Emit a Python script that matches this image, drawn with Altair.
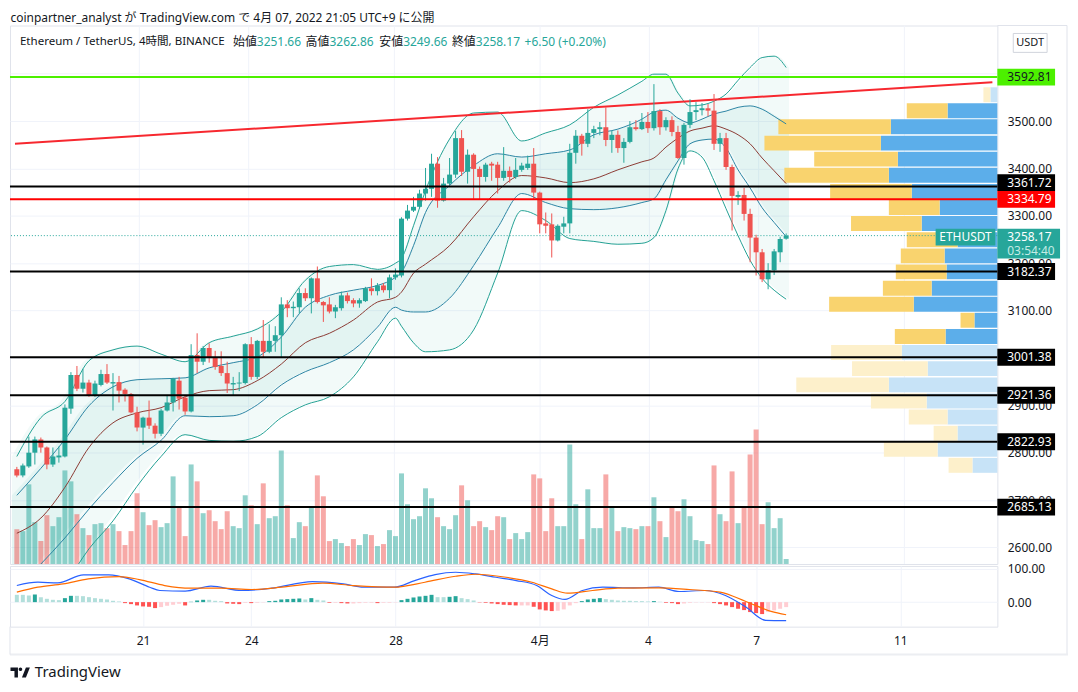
import altair as alt
import pandas as pd

FONT = "Noto Sans, Noto Sans CJK JP"
INK = "#131722"
UP = "#26a69a"
DOWN = "#ef5350"
GRID = "#f0f3fa"
BORDER = "#e0e3eb"

title_text = "coinpartner_analyst が TradingView.com で 4月 07, 2022 21:05 UTC+9 に公開"

# ---------------- 4h candles (index 0 = 3/17 13:00 JST) ----------------
opens = [2765, 2752, 2771, 2800, 2828, 2811, 2775, 2790, 2792, 2893,
         2964, 2935, 2948, 2920, 2943, 2966, 2946, 2949, 2933, 2924,
         2885, 2853, 2874, 2857, 2840, 2889, 2906, 2952, 2916, 2887,
         3006, 2992, 3021, 3002, 2983, 2968, 2944, 2946, 2947, 3029,
         2960, 3036, 3013, 3036, 3048, 3113, 3105, 3107, 3137, 3126,
         3168, 3118, 3113, 3098, 3105, 3132, 3122, 3115, 3120, 3147,
         3141, 3153, 3143, 3170, 3174, 3294, 3311, 3319, 3347, 3357,
         3410, 3332, 3368, 3387, 3464, 3393, 3429, 3399, 3382, 3410,
         3408, 3380, 3395, 3382, 3397, 3401, 3410, 3349, 3284, 3282,
         3248, 3277, 3284, 3433, 3469, 3452, 3475, 3483, 3487, 3460,
         3471, 3443, 3456, 3487, 3483, 3498, 3485, 3521, 3487, 3502,
         3477, 3422, 3492, 3519, 3523, 3527, 3522, 3452, 3464, 3403,
         3340, 3344, 3304, 3254, 3223, 3166, 3185, 3223, 3251.66]
highs = [2770, 2777, 2834, 2834, 2832, 2813, 2811, 2813, 2902, 2970,
         2983, 2977, 2954, 2952, 2975, 2987, 2968, 2962, 2936, 2926,
         2897, 2876, 2910, 2862, 2893, 2922, 2958, 2960, 2920, 3029,
         3052, 3025, 3031, 3015, 3014, 2992, 2960, 2970, 3031, 3044,
         3038, 3080, 3071, 3067, 3128, 3122, 3119, 3147, 3147, 3170,
         3193, 3120, 3128, 3112, 3140, 3138, 3126, 3126, 3150, 3168,
         3158, 3158, 3176, 3189, 3297, 3323, 3340, 3355, 3401, 3431,
         3424, 3380, 3422, 3479, 3481, 3440, 3432, 3404, 3412, 3414,
         3414, 3445, 3404, 3422, 3412, 3427, 3443, 3351, 3307, 3305,
         3282, 3298, 3452, 3481, 3473, 3525, 3490, 3498, 3529, 3480,
         3480, 3464, 3500, 3502, 3517, 3519, 3578, 3525, 3508, 3510,
         3490, 3496, 3546, 3540, 3538, 3536, 3557, 3475, 3475, 3408,
         3352, 3359, 3315, 3260, 3230, 3200, 3230, 3256, 3262.86]
lows = [2748, 2748, 2768, 2775, 2800, 2765, 2770, 2779, 2790, 2882,
        2930, 2927, 2918, 2918, 2940, 2945, 2889, 2906, 2908, 2883,
        2845, 2817, 2850, 2830, 2835, 2887, 2887, 2891, 2880, 2885,
        2968, 2985, 2990, 2975, 2962, 2926, 2922, 2930, 2944, 2954,
        2955, 3000, 3010, 3013, 3002, 3086, 3086, 3094, 3120, 3094,
        3115, 3076, 3094, 3084, 3100, 3115, 3107, 3106, 3118, 3132,
        3132, 3138, 3126, 3165, 3170, 3290, 3308, 3315, 3332, 3340,
        3317, 3330, 3365, 3380, 3384, 3368, 3336, 3334, 3372, 3374,
        3347, 3374, 3370, 3378, 3393, 3397, 3336, 3263, 3263, 3212,
        3246, 3263, 3263, 3410, 3427, 3445, 3464, 3470, 3447, 3433,
        3433, 3412, 3453, 3480, 3481, 3475, 3480, 3471, 3480, 3468,
        3420, 3408, 3485, 3502, 3512, 3510, 3439, 3435, 3397, 3269,
        3323, 3290, 3202, 3174, 3160, 3145, 3175, 3202, 3249.66]
closes = [2752, 2773, 2800, 2828, 2811, 2775, 2792, 2794, 2895, 2964,
          2935, 2948, 2920, 2946, 2966, 2948, 2949, 2931, 2924, 2885,
          2853, 2874, 2857, 2840, 2889, 2906, 2956, 2914, 2887, 3006,
          2992, 3021, 3002, 2981, 2968, 2946, 2947, 2948, 3029, 2960,
          3036, 3013, 3036, 3048, 3113, 3105, 3108, 3137, 3126, 3168,
          3118, 3111, 3098, 3107, 3132, 3120, 3115, 3122, 3147, 3141,
          3153, 3143, 3170, 3176, 3294, 3311, 3319, 3347, 3357, 3410,
          3332, 3368, 3387, 3464, 3393, 3429, 3399, 3382, 3408, 3406,
          3380, 3395, 3382, 3397, 3406, 3410, 3349, 3282, 3279, 3248,
          3279, 3284, 3433, 3469, 3452, 3475, 3483, 3487, 3460, 3471,
          3443, 3456, 3487, 3483, 3498, 3485, 3521, 3487, 3502, 3477,
          3422, 3492, 3519, 3523, 3527, 3522, 3452, 3464, 3403, 3342,
          3344, 3304, 3254, 3223, 3166, 3185, 3225, 3251, 3258.17]
volume_k = [35, 33, 80, 42, 23, 49, 38, 47, 94, 83,
            50, 36, 29, 40, 41, 36, 40, 33, 19, 33,
            71, 52, 39, 44, 37, 41, 88, 57, 28, 100,
            83, 51, 54, 43, 35, 53, 38, 36, 69, 59,
            40, 81, 46, 48, 114, 59, 26, 42, 38, 57,
            89, 68, 23, 25, 21, 18, 25, 19, 30, 29,
            18, 20, 34, 28, 91, 60, 45, 48, 76, 66,
            47, 38, 35, 49, 79, 64, 38, 43, 37, 34,
            48, 47, 25, 31, 25, 32, 90, 86, 33, 66,
            38, 38, 120, 60, 25, 75, 36, 36, 90, 57,
            33, 37, 36, 35, 38, 38, 67, 43, 27, 58,
            53, 65, 48, 24, 23, 20, 99, 50, 43, 93,
            41, 58, 110, 135, 40, 62, 36, 46, 5]
macd_hist = [22, 22, 20, 23, 15, 10, 7, 6, 12, 19,
             19, 18, 15, 12, 10, 8, 4, 2, -3, -6,
             -10, -13, -14, -18, -15, -11, -8, -5, -10, 1,
             5, 7, 7, 4, 3, -4, -5, -6, -2, -3,
             -2, -1, 3, 4, 8, 9, 10, 11, 8, 12,
             7, 5, -2, -2, -3, -4, -4, -3, -2, -2,
             -3, -2, -2, -1, 6, 10, 14, 17, 19, 22,
             15, 15, 16, 18, 12, 9, 5, -1, -2, -4,
             -6, -8, -9, -10, -10, -10, -14, -22, -25, -27,
             -26, -22, -10, -3, 3, 8, 10, 12, 9, 7,
             5, 4, 4, 3, 3, 2, 3, 1, -2, -3,
             -6, -4, -2, -1, -1, -1, -3, -6, -10, -15,
             -20, -24, -30, -33, -36, -30, -25, -20, -15]

# ---------------- Bollinger bands (2σ / 1σ) and basis MA ----------------
bb_idx = [0, 4, 8, 12, 16, 20, 24, 28, 32, 36, 40, 44, 48, 52, 56, 60, 63, 64, 66, 68,
          72, 76, 80, 84, 88, 92, 96, 100, 104, 106, 108, 110, 112, 114, 116, 118, 120,
          122, 124, 126, 128]
bb_upper2 = [2792, 2874, 2908, 2994, 3017, 3025, 3008, 2992, 3032, 3046, 3061, 3097, 3164,
             3193, 3197, 3187, 3200, 3210, 3279, 3353, 3462, 3517, 3519, 3458, 3475, 3492,
             3529, 3555, 3584, 3599, 3599, 3559, 3532, 3534, 3542, 3557, 3586, 3613, 3634,
             3637, 3613]
bb_upper1 = [2710, 2767, 2828, 2899, 2939, 2954, 2956, 2958, 2979, 2990, 3002, 3044, 3107,
             3132, 3143, 3153, 3170, 3181, 3237, 3307, 3364, 3406, 3431, 3424, 3431, 3439,
             3471, 3483, 3504, 3519, 3523, 3506, 3496, 3504, 3515, 3521, 3529, 3532, 3525,
             3510, 3494]
bb_basis = [2630, 2662, 2727, 2811, 2863, 2884, 2895, 2918, 2931, 2933, 2952, 2987, 3032,
            3052, 3080, 3118, 3128, 3139, 3179, 3198, 3237, 3298, 3353, 3385, 3380, 3370,
            3378, 3397, 3414, 3422, 3445, 3464, 3479, 3485, 3490, 3483, 3471, 3452, 3422,
            3395, 3368]
bb_lower1 = [2513, 2565, 2620, 2681, 2737, 2788, 2826, 2878, 2876, 2878, 2901, 2943, 2971,
             2990, 3017, 3065, 3107, 3101, 3097, 3097, 3126, 3195, 3275, 3347, 3328, 3315,
             3313, 3317, 3328, 3336, 3376, 3416, 3452, 3460, 3462, 3443, 3397, 3359, 3317,
             3286, 3256]
bb_lower2 = [2408, 2471, 2523, 2597, 2656, 2729, 2792, 2838, 2826, 2824, 2834, 2874, 2901,
             2918, 2960, 3034, 3084, 3067, 3032, 3013, 3017, 3059, 3179, 3311, 3290, 3252,
             3246, 3240, 3242, 3254, 3311, 3399, 3437, 3424, 3374, 3315, 3258, 3206, 3168,
             3143, 3124]

# ---------------- MACD ----------------
macd_idx = [0, 3.5, 6.8, 11.1, 15.3, 18.7, 22.1, 23.8, 28, 32.3, 37.4, 42.4, 49.2, 54.3,
            57.7, 62.8, 66.2, 69.6, 73, 76.3, 79.7, 83.1, 86.5, 89, 91.2, 94.1, 97.5,
            102.6, 106.8, 110.2, 114.5, 117.9, 121.3, 124.6, 128]
macd_val = [50, 60, 58, 82, 82, 70, 45, 35, 33, 48, 35, 42, 62, 55, 45, 45, 65, 83, 90, 85,
            75, 65, 50, 20, 8, 35, 45, 43, 45, 32, 35, 20, -15, -55, -56]
sig_idx = [0, 3.5, 7.7, 11.9, 17, 20.4, 24.6, 28.9, 34, 39.1, 44.1, 50.9, 56, 62.8, 67.9,
           73, 76.3, 81.4, 85.7, 89, 91.6, 95.8, 100, 106.8, 111.9, 117, 121.3, 125.5, 128]
sig_val = [30, 45, 55, 70, 77, 68, 50, 42, 42, 38, 45, 57, 50, 45, 60, 78, 84, 75, 60, 40,
           27, 35, 42, 43, 38, 30, 2, -28, -38]

# ---------------- visible-range volume profile (K ETH) ----------------
vp_edges = [3581, 3546, 3512, 3477, 3442, 3408, 3373, 3338, 3304, 3269, 3234, 3200, 3165,
            3130, 3096, 3061, 3026, 2992, 2957, 2922, 2888, 2853, 2818, 2784, 2749]
vp_up = [7, 50, 107, 117, 100, 109, 86, 58, 76, 40, 53, 51, 66, 84, 23, 52, 96, 70, 109,
         71, 50, 40, 60, 25]
vp_down = [7, 41, 113, 117, 84, 105, 82, 51, 71, 51, 44, 51, 49, 85, 14, 51, 71, 76, 93,
           56, 39, 24, 54, 24]
vp_value_area = [0] + [1] * 15 + [0] * 8

# ---------------- annotations ----------------
level_prices = [3592.81, 3334.79, 3182.37, 3001.38, 2921.36, 2822.93, 2685.13]
level_kinds = ["green", "red", "black", "black", "black", "black", "black"]
raised_level = 3361.72
last_price = 3258.17
countdown = "03:54:40"
trend_idx = [-0.31, 162.31]
trend_price = [3452, 3582]

date_ticks = [21, 39, 63, 87, 105, 123, 147]
date_labels = ["21", "24", "28", "4月", "4", "7", "11"]
price_ticks = [2600, 2700, 2800, 2900, 3000, 3100, 3200, 3300, 3400, 3500, 3600]
price_hidden = [3000, 3600]   # covered by the level boxes
macd_ticks = [0, 100]

# ---------------- tables ----------------
n = len(opens)
cdf = pd.DataFrame({"i": list(range(n)), "o": opens, "h": highs, "l": lows, "c": closes,
                    "v": [v * 1000 for v in volume_k]})
cdf["col"] = [UP if c >= o else DOWN for o, c in zip(opens, closes)]

hcols = []
prev = None
for hv in macd_hist:
    if hv >= 0:
        hcols.append("#26a69a" if (prev is not None and hv > prev) else "#b2dfdb")
    else:
        hcols.append("#ff5252" if (prev is not None and hv < prev) else "#ffcdd2")
    prev = hv
hdf = pd.DataFrame({"i": list(range(n)), "hv": macd_hist, "col": hcols})

bbdf = pd.DataFrame({"i": bb_idx, "u2": bb_upper2, "u1": bb_upper1, "m": bb_basis,
                     "l1": bb_lower1, "l2": bb_lower2})
mdf = pd.DataFrame({"i": macd_idx, "v": macd_val})
sdf = pd.DataFrame({"i": sig_idx, "v": sig_val})
gdf = pd.DataFrame({"t": date_ticks})

KIND_BG = {"green": "#4cf000", "red": "#ff0000", "black": "#000000"}
KIND_FG = {"green": INK, "red": "#ffffff", "black": "#ffffff"}
ldf = pd.DataFrame({"p": level_prices, "lab": [f"{p:.2f}" for p in level_prices],
                    "bg": [KIND_BG[k] for k in level_kinds],
                    "fg": [KIND_FG[k] for k in level_kinds]})
rdf = pd.DataFrame({"p": [raised_level], "lab": [f"{raised_level:.2f}"]})
lastdf = pd.DataFrame({"p": [last_price], "lab": [f"{last_price:.2f}"], "cd": [countdown]})
tdf = pd.DataFrame({"i": trend_idx, "p": trend_price})

rows = []
for k in range(len(vp_up)):
    hi, lo = vp_edges[k], vp_edges[k + 1]
    u, d = vp_up[k], vp_down[k]
    va = vp_value_area[k]
    mid = (hi + lo) / 2
    rows.append({"mid": mid, "x0": 0, "x1": u, "col": "#5caeea" if va else "#c7e3f7"})
    rows.append({"mid": mid, "x0": u, "x1": u + d, "col": "#f9d36e" if va else "#fdf0cb"})
vpdf = pd.DataFrame(rows)

# ---------------- scales / axes ----------------
XS = alt.Scale(domain=[-0.31, 162.31], nice=False, zero=False)
PS = alt.Scale(domain=[2565.1, 3701.7], nice=False, zero=False)
MS = alt.Scale(domain=[-74, 109], nice=False, zero=False)
label_expr = " : ".join(f"datum.value == {t} ? '{l}'" for t, l in zip(date_ticks, date_labels)) + " : ''"
hide_expr = " || ".join(f"datum.value == {v}" for v in price_hidden)
price_expr = f"({hide_expr}) ? '' : format(datum.value, '.2f')"

yax_price = alt.Axis(orient="right", values=price_ticks, labelExpr=price_expr,
                     ticks=False, domain=False, grid=True, gridColor=GRID, title=None,
                     labelFont=FONT, labelFontSize=12, labelColor=INK, labelPadding=10,
                     labelOverlap=False)
xax_bot = alt.Axis(values=date_ticks, labelExpr=label_expr, ticks=False, domain=False, grid=True,
                   gridColor=GRID, title=None, labelFont=FONT, labelFontSize=12, labelColor=INK,
                   labelPadding=9, labelFlush=False, labelOverlap=False)
yax_macd = alt.Axis(orient="right", values=macd_ticks, labelExpr="format(datum.value, '.2f')",
                    ticks=False, domain=False, grid=True, gridColor=GRID, title=None,
                    labelFont=FONT, labelFontSize=12, labelColor=INK, labelPadding=10,
                    labelOverlap=False)

one = pd.DataFrame({"k": [0]})


def txt(s, x, y, color=INK, size=12, weight="normal", align="left"):
    return alt.Chart(one).mark_text(text=s, align=align, baseline="middle", fontSize=size,
                                    fontWeight=weight, color=color, font=FONT).encode(
        x=alt.value(x), y=alt.value(y))


def frame(width=1, color=BORDER, **enc):
    return alt.Chart(one).mark_rule(color=color, strokeWidth=width).encode(**enc)


# ---------------- main pane ----------------
vgrid = alt.Chart(gdf).mark_rule(color=GRID, strokeWidth=1).encode(
    x=alt.X("t:Q", scale=XS, axis=None))
outer = alt.Chart(bbdf).mark_area(color=UP, opacity=0.06, clip=True, interpolate="monotone").encode(
    x=alt.X("i:Q", scale=XS, axis=None),
    y=alt.Y("u2:Q", scale=PS, axis=yax_price), y2="l2:Q")
inner = alt.Chart(bbdf).mark_area(color=UP, opacity=0.07, clip=True, interpolate="monotone").encode(
    x=alt.X("i:Q", scale=XS, axis=None),
    y=alt.Y("u1:Q", scale=PS, axis=yax_price), y2="l1:Q")
P1 = alt.layer(vgrid, outer, inner)

V = alt.Chart(cdf).mark_bar(orient="vertical", size=5, opacity=0.5).encode(
    x=alt.X("i:Q", scale=XS, axis=None),
    y=alt.Y("v:Q", scale=alt.Scale(domain=[0, 541000], nice=False), axis=None),
    color=alt.Color("col:N", scale=None))

R = alt.Chart(vpdf).mark_bar(orient="horizontal", size=15).encode(
    x=alt.X("x0:Q", scale=alt.Scale(domain=[0, 992], reverse=True, nice=False, zero=False), axis=None),
    x2="x1:Q",
    y=alt.Y("mid:Q", scale=PS, axis=None),
    color=alt.Color("col:N", scale=None))


def bbline(col, color):
    return alt.Chart(bbdf).mark_line(color=color, strokeWidth=1, clip=True, interpolate="monotone").encode(
        x=alt.X("i:Q", scale=XS, axis=None), y=alt.Y(f"{col}:Q", scale=PS, axis=None))


lines = [bbline("u2", "#22a093"), bbline("l2", "#22a093"),
         bbline("u1", "#2b84a3"), bbline("l1", "#2b84a3"),
         bbline("m", "#8b3a33")]

trend = alt.Chart(tdf).mark_line(color="#f7282f", strokeWidth=2, clip=True).encode(
    x=alt.X("i:Q", scale=XS, axis=None), y=alt.Y("p:Q", scale=PS, axis=None))
lastline = alt.Chart(lastdf).mark_rule(color=UP, strokeWidth=1, strokeDash=[1, 2]).encode(
    y=alt.Y("p:Q", scale=PS, axis=None))
wicks = alt.Chart(cdf).mark_rule(strokeWidth=1).encode(
    x=alt.X("i:Q", scale=XS, axis=None), y=alt.Y("l:Q", scale=PS, axis=None), y2="h:Q",
    color=alt.Color("col:N", scale=None))
bodies = alt.Chart(cdf).mark_bar(orient="vertical", size=5).encode(
    x=alt.X("i:Q", scale=XS, axis=None), y=alt.Y("o:Q", scale=PS, axis=None), y2="c:Q",
    color=alt.Color("col:N", scale=None))
levels = alt.Chart(ldf).mark_rule(strokeWidth=2).encode(
    y=alt.Y("p:Q", scale=PS, axis=None), color=alt.Color("bg:N", scale=None))
rlevel = alt.Chart(rdf).mark_rule(strokeWidth=2, color="#000000").encode(
    y=alt.Y("p:Q", scale=PS, axis=None))

BOX = "M-29,-8.5H29V8.5H-29Z"
boxes = alt.Chart(ldf).mark_point(shape=BOX, size=4, filled=True, opacity=1, strokeWidth=0).encode(
    x=alt.value(1021), y=alt.Y("p:Q", scale=PS, axis=None), color=alt.Color("bg:N", scale=None))
boxtxt = alt.Chart(ldf).mark_text(align="left", baseline="middle", fontSize=12, font=FONT).encode(
    x=alt.value(1002), y=alt.Y("p:Q", scale=PS, axis=None), text="lab:N",
    color=alt.Color("fg:N", scale=None))
rbox = alt.Chart(rdf).mark_point(shape=BOX, size=4, filled=True, opacity=1, strokeWidth=0,
                                 color="#000000", yOffset=-4).encode(
    x=alt.value(1021), y=alt.Y("p:Q", scale=PS, axis=None))
rtxt = alt.Chart(rdf).mark_text(align="left", baseline="middle", fontSize=12, font=FONT,
                                color="#ffffff", dy=-4).encode(
    x=alt.value(1002), y=alt.Y("p:Q", scale=PS, axis=None), text="lab:N")

lastbox = alt.Chart(lastdf).mark_point(shape="M-31.5,-7H31.5V23H-31.5Z", size=4, filled=True,
                                       opacity=1, strokeWidth=0, color=UP).encode(
    x=alt.value(1023.5), y=alt.Y("p:Q", scale=PS, axis=None))
lasttxt = alt.Chart(lastdf).mark_text(align="left", baseline="middle", fontSize=12, font=FONT,
                                      color="#ffffff", dy=1.5).encode(
    x=alt.value(1002), y=alt.Y("p:Q", scale=PS, axis=None), text="lab:N")
cdtxt = alt.Chart(lastdf).mark_text(align="left", baseline="middle", fontSize=12, font=FONT,
                                    color="#c4ebe5", dy=15.5).encode(
    x=alt.value(1002), y=alt.Y("p:Q", scale=PS, axis=None), text="cd:N")
symbox = alt.Chart(lastdf).mark_point(shape="M-30,-7H30V10H-30Z", size=4, filled=True,
                                      opacity=1, strokeWidth=0, color=UP).encode(
    x=alt.value(960), y=alt.Y("p:Q", scale=PS, axis=None))
symtxt = alt.Chart(lastdf).mark_text(text="ETHUSDT", align="center", baseline="middle",
                                     fontSize=12, font=FONT, color="#ffffff", dy=1.5).encode(
    x=alt.value(960), y=alt.Y("p:Q", scale=PS, axis=None))

header = [
    txt("Ethereum / TetherUS, 4時間, BINANCE", 10, 17, size=11.6),
    txt("始値", 224, 17), txt("3251.66", 248, 17, color=UP),
    txt("高値", 297, 17), txt("3262.86", 321, 17, color=UP),
    txt("安値", 371, 17), txt("3249.66", 395, 17, color=UP),
    txt("終値", 444, 17), txt("3258.17", 468, 17, color=UP),
    txt("+6.50 (+0.20%)", 517, 17, color=UP),
]
usdt_btn = alt.Chart(one).mark_point(shape="M-17,-9.5H17V9.5H-17Z", size=4, filled=False,
                                     stroke="#d1d4dc", strokeWidth=1, opacity=1).encode(
    x=alt.value(1025), y=alt.value(17.5))
usdt_txt = txt("USDT", 1025, 17.5, size=11, align="center")

frames_top = [frame(x=alt.value(992), x2=alt.value(1062), y=alt.value(0)),
              frame(x=alt.value(1062), y=alt.value(0), y2=alt.value(541))]

P2 = alt.layer(*lines, trend, lastline, wicks, bodies, levels, rlevel,
               boxes, boxtxt, rbox, rtxt, symbox, symtxt, lastbox, lasttxt, cdtxt,
               *header, usdt_btn, usdt_txt, *frames_top)

top = alt.layer(P1, V, R, P2).resolve_scale(x="independent", y="independent").properties(
    width=992, height=541)

# ---------------- MACD pane ----------------
hist = alt.Chart(hdf).mark_bar(orient="vertical", size=4).encode(
    x=alt.X("i:Q", scale=XS, axis=xax_bot),
    y=alt.Y("hv:Q", scale=MS, axis=yax_macd),
    color=alt.Color("col:N", scale=None))
macd_line = alt.Chart(mdf).mark_line(color="#2962ff", strokeWidth=1.2, interpolate="monotone",
                                     clip=True).encode(
    x=alt.X("i:Q", scale=XS, axis=xax_bot), y=alt.Y("v:Q", scale=MS, axis=yax_macd))
sig_line = alt.Chart(sdf).mark_line(color="#ff6d00", strokeWidth=1.2, interpolate="monotone",
                                    clip=True).encode(
    x=alt.X("i:Q", scale=XS, axis=xax_bot), y=alt.Y("v:Q", scale=MS, axis=yax_macd))

logo = alt.Chart(one).mark_point(
    shape="M-10,-5H-2.5V5H-6V-1.5H-10Z M1.5,5L5.5,-5H9.5L5.5,5Z M0,-5A1.8,1.8 0 1 1 0,-1.4A1.8,1.8 0 1 1 0,-5Z",
    size=4, filled=True, opacity=1, strokeWidth=0, color=INK).encode(
    x=alt.value(10.5), y=alt.value(107))
brand = txt("TradingView", 25, 107, size=15, weight="normal")

frames_bot = [frame(x=alt.value(1062), y=alt.value(-2), y2=alt.value(89)),
              frame(width=2, color="#eceef2", x=alt.value(0), x2=alt.value(1063), y=alt.value(89)),
              frame(x=alt.value(0), y=alt.value(61), y2=alt.value(89))]

bottom = alt.layer(hist, macd_line, sig_line, logo, brand, *frames_bot).properties(
    width=992, height=61)

chart = alt.vconcat(top, bottom, spacing=2, bounds="flush").properties(
    title=alt.TitleParams(title_text, anchor="start", fontSize=12, font=FONT, fontWeight="normal",
                          color=INK, offset=0, dx=2),
    padding={"top": 2, "left": 0, "right": 0, "bottom": 0},
    background="white",
).configure_view(stroke=BORDER)

chart.save("out.html", embed_options={"renderer": "svg", "actions": False})
